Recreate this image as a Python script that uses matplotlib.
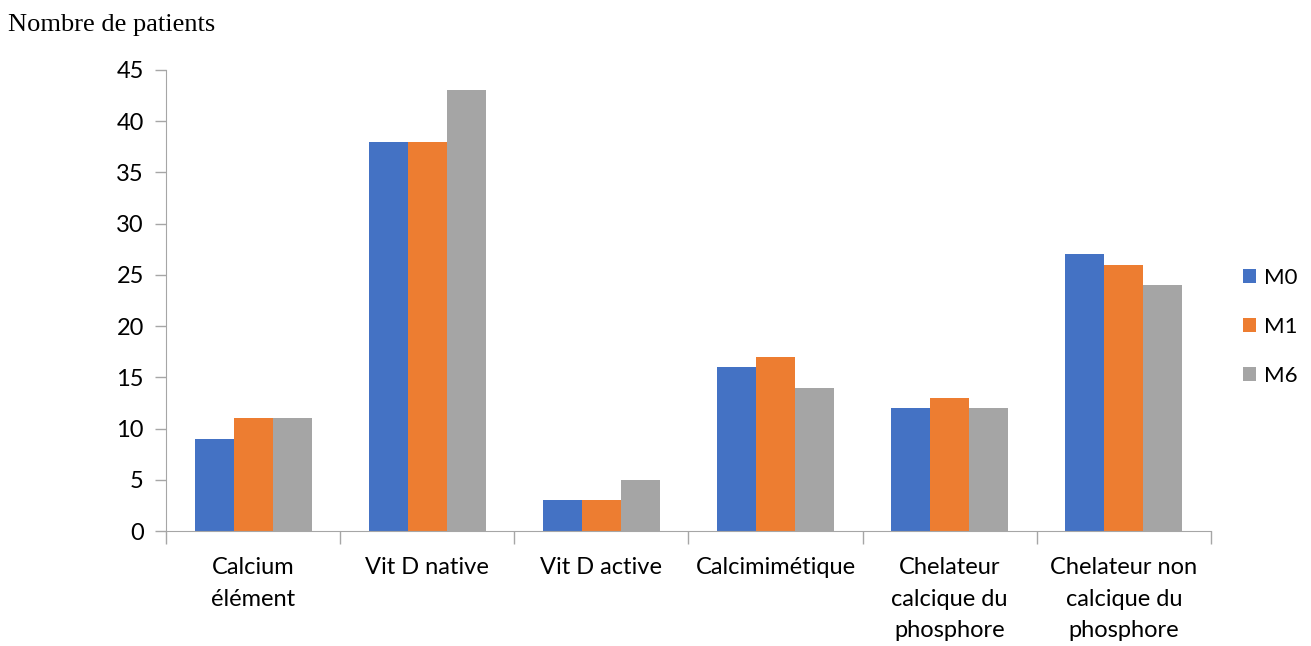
import matplotlib
matplotlib.use("Agg")
import matplotlib.pyplot as plt
import numpy as np

categories = [
    "Calcium\nélément",
    "Vit D native",
    "Vit D active",
    "Calcimimétique",
    "Chelateur\ncalcique du\nphosphore",
    "Chelateur non\ncalcique du\nphosphore",
]
m0 = [9, 38, 3, 16, 12, 27]
m1 = [11, 38, 3, 17, 13, 26]
m6 = [11, 43, 5, 14, 12, 24]
series = [("M0", m0, "#4472C4"), ("M1", m1, "#ED7D31"), ("M6", m6, "#A5A5A5")]

fig = plt.figure(figsize=(13.11, 6.46), dpi=100)
ax = fig.add_axes([0.1266, 0.178, 0.797, 0.714])

x = np.arange(len(categories)) + 0.5
w = 0.224
for i, (name, vals, color) in enumerate(series):
    ax.bar(x + (i - 1) * w, vals, w, color=color, label=name)

ax.set_xlim(0, len(categories))
ax.set_ylim(0, 45)
ax.set_yticks(range(0, 46, 5))
ax.set_xticks(x)
ax.set_xticklabels(categories, fontsize=17, family="Lato", linespacing=1.62)
ax.set_xticks(np.arange(len(categories) + 1), minor=True)
ax.tick_params(axis="x", which="major", length=0, pad=19)
ax.tick_params(axis="x", which="minor", length=9, color="#A6A6A6", width=1)
ax.tick_params(axis="y", length=8, color="#A6A6A6", width=1, labelsize=17, pad=8)
for lab in ax.get_yticklabels():
    lab.set_family("Lato")

for side in ["top", "right"]:
    ax.spines[side].set_visible(False)
for side in ["left", "bottom"]:
    ax.spines[side].set_color("#A6A6A6")

leg = ax.legend(loc="center left", bbox_to_anchor=(1.018, 0.442), frameon=False,
                prop={"family": "Lato", "size": 16}, handlelength=0.6,
                handleheight=0.6, labelspacing=1.3, handletextpad=0.35,
                borderaxespad=0.2)

fig.text(0.006, 0.961, "Nombre de patients", family="Liberation Serif",
         fontsize=19, va="center", ha="left")

fig.savefig("out.png", dpi=100)
